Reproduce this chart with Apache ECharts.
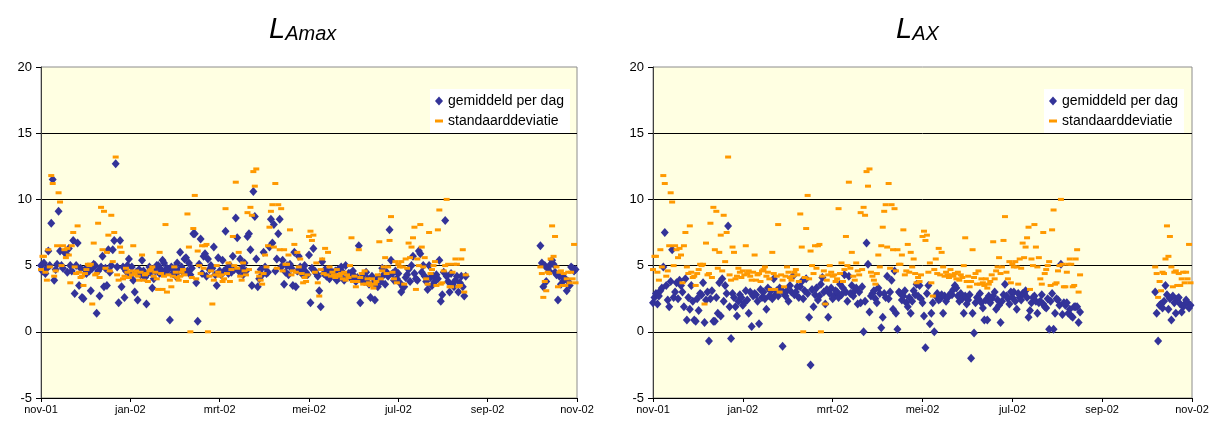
<!DOCTYPE html>
<html>
<head>
<meta charset="utf-8">
<script src="https://cdn.jsdelivr.net/npm/echarts@6/dist/echarts.min.js"></script>
<style>
html,body{margin:0;padding:0;background:#fff;}
#chart{width:1221px;height:428px;}
</style>
</head>
<body>
<div id="chart"></div>
<script>
// x axis: day index counted from 1 Nov 2001
const xTickLabels = ['nov-01','jan-02','mrt-02','mei-02','jul-02','sep-02','nov-02'];
const yTicks = [-5, 0, 5, 10, 15, 20];
const seriesNames = ['gemiddeld per dag', 'standaarddeviatie'];
const panelTitles = [['L','Amax'], ['L','AX']];

// first data period: days 0..290 (1 Nov 2001 - 18 Aug 2002)
const part1Start = 0;
// second data period: days 341..365 (8 Oct 2002 - 1 Nov 2002)
const part2Start = 341;

// standaarddeviatie (shared by both panels)
const sd1 = [
4.7,5.7,5.7,4.5,3.9,6.2,4.9,11.8,11.2,4.2,
4.6,6.5,10.5,9.8,5.0,6.5,6.2,5.6,6.3,5.8,
3.7,6.5,7.5,4.9,4.4,8.0,4.5,4.1,4.2,3.5,
4.4,4.7,5.1,5.0,5.1,2.1,6.7,4.3,4.4,8.2,
4.1,9.4,6.2,9.1,4.8,6.0,7.3,4.6,8.8,5.3,
7.5,13.2,4.3,3.9,6.4,6.0,4.0,4.2,4.8,4.5,
4.1,4.6,4.3,6.5,4.4,4.6,4.2,3.9,4.5,5.8,
3.9,4.3,4.4,3.8,4.6,4.7,4.9,4.2,4.5,4.0,
3.2,6.0,4.4,3.2,4.2,8.1,3.0,4.3,3.9,3.4,
4.2,4.9,4.5,4.1,3.9,4.2,4.5,4.7,4.3,3.8,
8.9,6.4,0.0,4.1,7.8,10.3,4.0,6.1,5.0,4.4,
6.5,4.8,6.5,6.6,0.0,4.2,4.6,2.1,3.9,4.3,
5.0,4.5,4.2,4.3,3.8,4.0,9.3,4.4,5.2,3.8,
4.7,7.2,5.0,11.3,4.8,6.0,4.2,3.9,5.2,4.6,
4.3,9.0,4.7,9.4,8.8,12.1,11.0,12.3,4.5,4.2,
3.9,3.6,4.4,5.8,4.9,6.5,7.9,9.1,9.6,6.4,
11.2,4.8,9.6,6.2,9.3,4.6,6.2,5.1,5.1,5.8,
7.7,4.3,4.6,6.6,4.5,6.0,4.9,5.5,4.4,3.7,
4.1,3.8,4.3,7.2,7.6,6.9,7.3,4.5,5.2,3.7,
2.7,4.7,5.5,4.4,6.3,4.3,6.0,4.9,4.2,4.5,
4.3,4.1,4.7,4.3,4.2,4.4,4.0,4.5,3.9,4.3,
4.1,5.0,7.1,3.8,4.2,3.4,3.8,6.2,4.1,4.4,
3.6,4.6,3.6,4.0,3.7,3.5,4.0,3.3,3.6,3.8,
4.3,6.8,4.0,4.6,4.9,5.6,4.4,4.9,6.9,8.7,
4.5,4.0,5.3,3.7,5.1,4.9,5.3,4.9,3.6,5.5,
4.8,6.7,5.6,6.4,7.1,7.9,3.2,5.5,5.0,8.1,
6.4,4.9,5.6,4.0,3.6,7.5,4.4,4.7,5.0,5.3,
3.5,7.7,9.2,3.6,3.7,4.6,5.0,10.0,5.1,3.4,
3.4,4.5,5.1,5.5,5.1,3.4,3.5,5.5,6.2,3.0,4.3
];
const sd2 = [
4.9,4.4,2.6,3.8,3.1,4.5,4.4,5.5,8.0,5.7,
7.2,4.9,3.4,4.5,4.6,3.5,4.4,3.5,4.0,4.5,
3.7,4.5,4.0,6.6,3.7
];

// L_Amax gemiddeld per dag
const amax1 = [
5.0,4.6,5.2,4.4,4.8,6.1,5.0,8.2,11.5,3.9,
4.7,5.1,9.1,6.1,5.0,4.8,6.0,5.9,4.5,6.3,
5.0,4.6,6.9,2.9,5.0,6.7,3.5,4.8,2.6,2.5,
4.7,4.4,4.9,4.6,3.1,4.8,5.1,5.0,1.4,4.6,
2.7,4.9,5.7,3.4,4.8,3.5,6.2,4.5,5.0,6.2,
6.9,12.7,4.9,2.2,6.9,3.4,4.9,2.6,4.6,5.0,
5.5,4.3,4.9,3.9,3.0,4.5,2.4,4.7,4.3,5.4,
4.6,4.1,2.1,4.4,4.9,4.5,3.3,4.0,4.6,5.0,
5.0,4.4,4.7,5.4,5.2,4.5,4.8,4.7,0.9,4.9,
4.4,4.8,4.2,5.2,4.6,6.0,4.9,4.5,5.5,5.6,
4.6,5.2,4.3,4.8,7.4,7.4,3.7,0.8,5.1,7.0,
4.4,5.7,5.9,4.2,5.5,4.7,5.0,4.8,6.4,4.3,
3.5,5.6,4.6,4.3,5.4,4.6,7.6,4.8,4.4,5.0,
4.5,5.7,4.7,8.6,7.1,4.6,5.5,4.8,4.3,5.2,
4.6,7.2,7.4,6.2,3.5,10.6,8.7,5.5,3.4,4.0,
4.7,4.3,6.0,4.9,4.4,4.5,6.4,8.5,6.7,8.1,
4.6,5.5,7.4,8.5,4.9,5.4,3.6,4.5,5.0,4.3,
5.1,4.8,3.5,6.0,3.4,4.6,5.7,4.9,4.4,4.7,
5.0,4.5,4.3,5.8,2.2,4.8,6.3,4.6,4.4,4.2,
3.1,1.9,5.3,4.4,4.7,4.2,4.5,4.0,4.6,4.3,
4.2,4.6,3.9,4.7,4.1,4.9,4.5,3.9,5.0,4.2,
4.4,4.4,4.0,4.6,4.2,3.8,4.1,6.5,2.2,3.9,
4.3,3.8,4.5,4.0,3.6,2.6,4.2,3.7,2.4,3.9,
3.4,4.1,3.8,4.8,4.3,3.6,4.5,4.2,7.7,5.4,
4.4,3.9,4.6,4.0,4.4,3.7,3.0,3.4,3.4,4.1,
4.3,4.7,3.8,5.0,5.7,4.4,4.0,3.9,6.1,5.9,
4.5,5.0,4.2,3.8,3.2,5.0,4.1,3.5,4.2,3.8,
4.3,4.0,5.4,2.3,2.8,4.5,8.4,4.2,3.8,3.0,
4.4,3.6,3.4,3.9,4.2,3.0,3.7,4.2,3.4,2.7,4.2
];
const amax2 = [
6.5,5.2,3.4,5.0,3.8,4.8,4.6,5.1,5.4,5.1,
4.5,4.3,2.4,4.2,3.6,4.2,3.9,4.0,3.1,3.8,
3.5,4.9,4.8,4.6,4.7
];

// L_AX gemiddeld per dag
const lax1 = [
2.2,2.6,2.9,2.1,2.7,3.1,3.3,4.9,7.5,3.5,
2.4,1.9,3.8,6.2,2.6,3.0,3.7,2.5,3.9,3.5,
3.0,1.9,4.0,0.9,2.6,1.7,3.5,2.3,0.9,0.8,
2.5,1.6,2.9,2.8,3.7,0.7,2.4,3.0,-0.7,2.5,
3.1,0.8,0.8,2.6,1.4,3.7,1.2,4.0,2.3,3.5,
2.9,8.0,1.9,-0.5,2.9,2.6,1.9,1.2,2.3,2.8,
2.6,2.0,2.2,3.1,2.4,1.4,3.0,0.4,2.7,2.9,
2.8,2.3,0.6,3.2,2.6,3.0,2.5,1.7,3.3,2.7,
3.1,2.5,4.0,2.8,3.1,2.7,3.3,3.2,-1.1,2.9,
2.7,3.1,2.3,3.5,3.0,4.2,2.8,3.0,3.4,2.6,
3.4,3.8,2.5,3.1,4.0,2.9,1.1,-2.5,3.2,1.9,
2.8,3.3,2.4,2.7,3.6,4.1,3.0,2.1,3.2,1.1,
2.9,3.3,2.5,2.7,3.1,3.0,2.6,3.6,2.8,3.3,
4.3,3.0,2.3,4.2,2.9,3.5,2.7,3.1,3.3,2.1,
3.0,2.2,3.4,0.0,2.3,6.7,5.1,1.5,2.7,2.9,
3.1,2.5,2.2,3.3,2.9,0.3,1.1,2.9,2.6,4.2,
2.5,3.0,3.9,1.7,4.6,1.4,0.2,3.0,2.9,2.4,
2.7,3.1,2.2,1.9,2.6,1.4,2.3,3.1,2.8,3.6,
2.7,3.5,2.5,2.2,1.2,-1.2,2.9,3.5,0.6,1.4,
2.2,0.0,2.7,2.9,2.4,2.5,2.8,1.4,2.7,2.3,
2.6,2.7,2.9,2.8,3.2,3.5,3.3,2.7,2.3,2.9,
2.5,1.4,2.7,2.1,2.4,2.8,-2.0,1.4,-0.1,2.2,
2.6,2.5,2.9,2.2,1.8,0.9,2.4,0.9,2.7,2.2,
2.5,2.7,3.0,1.7,2.4,2.0,0.7,2.3,2.8,3.6,
2.7,2.5,2.1,3.0,2.6,3.0,2.3,1.7,2.9,2.6,
2.4,2.9,2.9,3.1,2.6,1.1,1.6,2.2,2.6,2.7,
2.3,1.4,2.2,2.3,2.8,2.1,1.9,1.8,2.5,0.2,
2.3,2.9,0.2,1.4,2.5,2.4,2.0,5.1,1.3,2.2,
2.0,2.2,1.4,1.7,1.2,1.1,1.9,1.9,1.9,0.7,1.5
];
const lax2 = [
3.0,1.4,-0.7,2.0,2.1,1.8,2.3,3.5,2.8,1.7,
2.5,0.9,2.7,2.2,1.4,2.5,2.6,2.1,1.5,1.9,
2.1,2.4,2.2,1.8,2.0
];

function toPoints(arr, start) { return arr.map(function (v, i) { return [start + i, v]; }); }
function joined(a, b) { return toPoints(a, part1Start).concat(toPoints(b, part2Start)); }

const sdData = joined(sd1, sd2);
const meanData = [joined(amax1, amax2), joined(lax1, lax2)];

const FONT = 'Liberation Sans, Arial, sans-serif';
const gridBox = [
  { left: 41, width: 536, top: 67, height: 331 },
  { left: 653, width: 539, top: 67, height: 331 }
];
const titlePos = [264, 891];
const legendPos = [430, 1044];

const chart = echarts.init(document.getElementById('chart'), null, { renderer: 'canvas' });

const grids = [], xAxes = [], yAxes = [], series = [], titles = [], legends = [];
for (let p = 0; p < 2; p++) {
  grids.push(Object.assign({ show: true, backgroundColor: '#FFFFE2', borderColor: '#8c8c8c', borderWidth: 1 }, gridBox[p]));
  xAxes.push({
    type: 'value', gridIndex: p, min: 0, max: 366, interval: 61,
    axisLine: { show: true, onZero: false, lineStyle: { color: '#000', width: 1 } },
    axisTick: { show: true, inside: false, length: 4, lineStyle: { color: '#000' } },
    splitLine: { show: false },
    axisLabel: {
      color: '#000', fontSize: 11, fontFamily: FONT, margin: 6,
      formatter: function (v) { return xTickLabels[Math.round(v / 61)] || ''; }
    }
  });
  yAxes.push({
    type: 'value', gridIndex: p, min: yTicks[0], max: yTicks[yTicks.length - 1], interval: 5,
    axisLine: { show: true, lineStyle: { color: '#404040', width: 1 } },
    axisTick: { show: true, inside: false, length: 5, lineStyle: { color: '#000' } },
    splitLine: { show: true, showMinLine: false, showMaxLine: false, lineStyle: { color: '#000', width: 1 } },
    axisLabel: { color: '#000', fontSize: 13, fontFamily: FONT, margin: 9 }
  });
  series.push({
    name: seriesNames[0], type: 'scatter', xAxisIndex: p, yAxisIndex: p,
    symbol: 'diamond', symbolSize: [8, 9],
    itemStyle: { color: '#333399', opacity: 1 },
    data: meanData[p], animation: false
  });
  series.push({
    name: seriesNames[1], type: 'scatter', xAxisIndex: p, yAxisIndex: p,
    symbol: 'rect', symbolSize: [6, 3],
    itemStyle: { color: '#FF9900', opacity: 1 },
    data: sdData, animation: false
  });
  titles.push({
    left: titlePos[p], top: 10,
    text: '{l|' + panelTitles[p][0] + '}{s|' + panelTitles[p][1] + '}',
    textStyle: {
      fontWeight: 'normal',
      rich: {
        l: { fontSize: 29, fontStyle: 'italic', fontWeight: 'normal', fontFamily: FONT, color: '#000', verticalAlign: 'bottom' },
        s: { fontSize: 20, fontStyle: 'italic', fontWeight: 'normal', fontFamily: FONT, color: '#000', verticalAlign: 'bottom' }
      }
    }
  });
  legends.push({
    left: legendPos[p], top: 89, orient: 'vertical',
    backgroundColor: '#ffffff', padding: [5, 6, 5, 5], itemGap: 6,
    itemWidth: 8, itemHeight: 9,
    textStyle: { fontSize: 14, fontFamily: FONT, color: '#000' },
    data: [
      { name: seriesNames[0], icon: 'diamond' },
      { name: seriesNames[1], icon: 'path://M0,0h8v3h-8z' }
    ],
    selectedMode: false
  });
}

chart.setOption({
  animation: false,
  backgroundColor: '#ffffff',
  title: titles,
  legend: legends,
  grid: grids,
  xAxis: xAxes,
  yAxis: yAxes,
  series: series
});
</script>
</body>
</html>
